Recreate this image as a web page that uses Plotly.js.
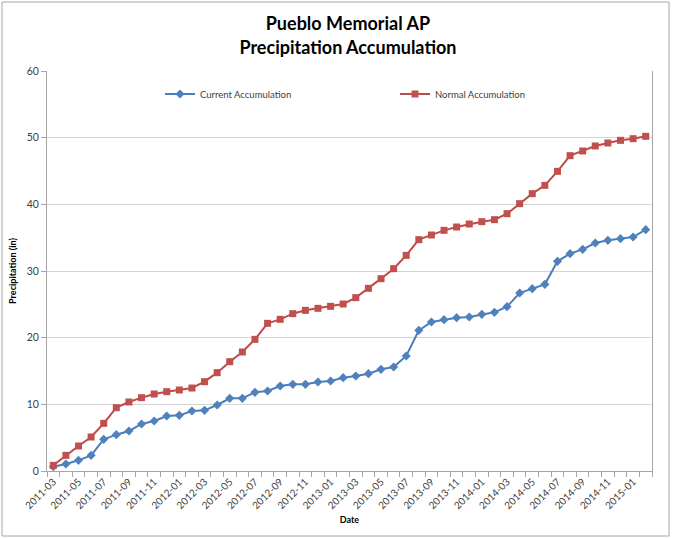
<!DOCTYPE html>
<html>
<head>
<meta charset="utf-8">
<script src="https://cdn.plot.ly/plotly-3.0.1.min.js"></script>
<style>
html,body{margin:0;padding:0;background:#fff;}
#chart{width:673px;height:538px;}
</style>
</head>
<body>
<div id="chart"></div>
<script>
const months = ["2011-03","2011-04","2011-05","2011-06","2011-07","2011-08","2011-09","2011-10","2011-11","2011-12",
  "2012-01","2012-02","2012-03","2012-04","2012-05","2012-06","2012-07","2012-08","2012-09","2012-10","2012-11","2012-12",
  "2013-01","2013-02","2013-03","2013-04","2013-05","2013-06","2013-07","2013-08","2013-09","2013-10","2013-11","2013-12",
  "2014-01","2014-02","2014-03","2014-04","2014-05","2014-06","2014-07","2014-08","2014-09","2014-10","2014-11","2014-12",
  "2015-01","2015-02"];
const currentAccum = [0.65,1.05,1.6,2.35,4.75,5.45,6.0,7.05,7.5,8.25,8.35,9.0,9.1,9.9,10.9,10.9,11.8,12.0,12.75,13.0,13.0,13.35,13.5,14.0,
  14.25,14.6,15.25,15.6,17.25,21.1,22.35,22.7,23.0,23.1,23.5,23.8,24.65,26.7,27.35,28.0,31.45,32.6,33.25,34.2,34.6,34.85,35.1,36.2];
const normalAccum = [0.85,2.35,3.75,5.1,7.15,9.5,10.35,11.0,11.55,11.9,12.15,12.45,13.4,14.75,16.4,17.85,19.75,22.15,22.75,23.6,24.1,24.4,24.7,25.05,
  26.0,27.4,28.85,30.35,32.35,34.7,35.4,36.1,36.6,37.05,37.4,37.7,38.6,40.1,41.6,42.85,44.95,47.3,48.0,48.75,49.2,49.6,49.85,50.2];
const seriesNames = ["Current Accumulation","Normal Accumulation"];

const idx = months.map((m,i)=>i);
const labelIdx = idx.filter(i => i % 2 === 0);
const labelText = labelIdx.map(i => months[i]);

const FONT = "Lato, 'Open Sans', sans-serif";

const traces = [
  {x: idx, y: currentAccum, name: seriesNames[0], type: 'scatter', mode: 'lines+markers',
   line: {color: '#4A7EBB', width: 2}, marker: {symbol: 'diamond', size: 7, color: '#4F81BD'}},
  {x: idx, y: normalAccum, name: seriesNames[1], type: 'scatter', mode: 'lines+markers',
   line: {color: '#BE4B48', width: 2}, marker: {symbol: 'square', size: 7, color: '#C0504D'}}
];

const L = 47, R = 21, T = 71, B = 67;
const pw = 673 - L - R, ph = 538 - T - B;

const layout = {
  width: 673, height: 538,
  margin: {l: L, r: R, t: T, b: B},
  paper_bgcolor: '#fff', plot_bgcolor: '#fff',
  font: {family: FONT, color: '#404040', size: 10},
  title: {text: '<b>Pueblo Memorial AP<br>Precipitation Accumulation</b>', font: {family: FONT, size: 18, color: '#000'},
          x: 0.517, xref: 'container', xanchor: 'center', y: 0.944, yanchor: 'middle', yref: 'container'},
  showlegend: true,
  legend: {orientation: 'h', x: (160 - L)/pw, xanchor: 'left', y: (471-94)/ph, yanchor: 'middle',
           font: {family: FONT, size: 9.5, color: '#404040'}, entrywidth: 190, bgcolor: 'rgba(0,0,0,0)', itemwidth: 30},
  xaxis: {
    range: [-0.5, months.length - 0.5], tickmode: 'array', tickvals: labelIdx, ticktext: labelText,
    tickangle: -45, ticks: '', showgrid: false, zeroline: false,
    showline: true, linecolor: '#a6a6a6', linewidth: 1,
    tickfont: {family: FONT, size: 10, color: '#404040'},
    minor: {tick0: -0.5, dtick: 1, ticks: 'outside', ticklen: 5, tickcolor: '#a6a6a6', showgrid: false},
    title: {text: '<b>Date</b>', font: {family: FONT, size: 9, color: '#000'}, standoff: 6}
  },
  yaxis: {
    range: [0, 60], dtick: 10, ticks: 'outside', ticklen: 5, tickcolor: '#a6a6a6',
    showgrid: true, gridcolor: '#d4d4d4', gridwidth: 1, zeroline: false,
    showline: true, linecolor: '#a6a6a6', mirror: true,
    tickfont: {family: FONT, size: 10.5, color: '#404040'},
    title: {text: '<b>Precipitation (in)</b>', font: {family: FONT, size: 9, color: '#000'}, standoff: 8}
  },
  shapes: [
    {type: 'rect', xref: 'paper', yref: 'paper', x0: (2 - L)/pw, x1: (669 - L)/pw, y0: (471 - 536)/ph, y1: (471 - 2)/ph,
     line: {color: '#a6a6a6', width: 1}, fillcolor: 'rgba(0,0,0,0)', layer: 'below'}
  ]
};

Plotly.newPlot('chart', traces, layout, {displayModeBar: false, staticPlot: true});
</script>
</body>
</html>
